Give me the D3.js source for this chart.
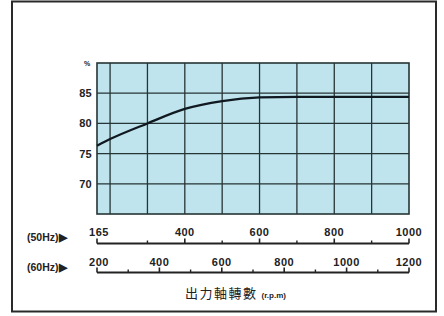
<!DOCTYPE html>
<html><head><meta charset="utf-8">
<script src="https://cdn.jsdelivr.net/npm/d3@7"></script>
<style>body{margin:0;background:#fff}svg{display:block}</style>
</head><body>
<script>
const rpm50 = [165, 200, 300, 400, 500, 600, 700, 800, 900, 1000];
const efficiency = [76.3, 77.4, 80.0, 82.4, 83.7, 84.3, 84.4, 84.4, 84.4, 84.4];
const yTicks = [70, 75, 80, 85];
const gridX = [200, 300, 400, 500, 600, 700, 800, 900];
const ticks50Major = [165, 400, 600, 800, 1000];
const ticks50Minor = [300, 500, 700, 900];
const ticks60Major = [200, 400, 600, 800, 1000, 1200];
const ticks60Minor = [300, 500, 700, 900, 1100];
const label50 = "(50Hz)▶";
const label60 = "(60Hz)▶";
const xTitle = "出力軸轉數";
const xUnit = "(r.p.m)";

const W = 444, H = 316;
const svg = d3.select("body").append("svg").attr("width", W).attr("height", H);
svg.append("rect").attr("x", 12).attr("y", 1.5).attr("width", 424).attr("height", 310)
  .attr("fill", "#fff").attr("stroke", "#2a2a2a").attr("stroke-width", 2);

const L = 97, R = 409, T = 63, B = 214;
const x50 = d3.scaleLinear().domain([165, 1000]).range([L, R]);
const x60 = d3.scaleLinear().domain([200, 1200]).range([L, R]);
const y = d3.scaleLinear().domain([65, 90]).range([B, T]);

svg.append("rect").attr("x", L).attr("y", T).attr("width", R - L).attr("height", B - T)
  .attr("fill", "#bfe4ee");

const gridColor = "#263535";
svg.append("g").selectAll("line").data(gridX).join("line")
  .attr("x1", d => x50(d)).attr("x2", d => x50(d)).attr("y1", T).attr("y2", B)
  .attr("stroke", gridColor).attr("stroke-width", 1.3);
svg.append("g").selectAll("line").data(yTicks).join("line")
  .attr("x1", L).attr("x2", R).attr("y1", d => y(d)).attr("y2", d => y(d))
  .attr("stroke", gridColor).attr("stroke-width", 1.3);
svg.append("rect").attr("x", L).attr("y", T).attr("width", R - L).attr("height", B - T)
  .attr("fill", "none").attr("stroke", gridColor).attr("stroke-width", 1.6);

// curve
svg.append("path").datum(rpm50.map((r, i) => [r, efficiency[i]]))
  .attr("d", d3.line().x(d => x50(d[0])).y(d => y(d[1])).curve(d3.curveMonotoneX))
  .attr("fill", "none").attr("stroke", "#101820").attr("stroke-width", 2.2);

const font = "'Liberation Sans', Arial, sans-serif";
svg.append("g").selectAll("text").data(yTicks).join("text")
  .attr("x", 92).attr("y", d => y(d) + 4).attr("text-anchor", "end")
  .attr("font-family", font).attr("font-weight", "bold").attr("font-size", 11)
  .attr("letter-spacing", 0.3).attr("fill", "#222").text(d => d);
svg.append("text").attr("x", 87).attr("y", 66).attr("text-anchor", "middle")
  .attr("font-family", font).attr("font-weight", "bold").attr("font-size", 7)
  .attr("fill", "#222").text("%");

function drawAxis(scale, major, minor, yLine, yLabel, label, labelY) {
  const g = svg.append("g");
  const [a, b] = scale.range();
  g.append("line").attr("x1", a).attr("x2", b).attr("y1", yLine).attr("y2", yLine)
    .attr("stroke", "#222").attr("stroke-width", 2);
  g.selectAll(".mj").data(major).join("line")
    .attr("x1", d => scale(d)).attr("x2", d => scale(d)).attr("y1", yLine).attr("y2", yLine - 5)
    .attr("stroke", "#222").attr("stroke-width", 1.6);
  g.selectAll(".mn").data(minor).join("line")
    .attr("x1", d => scale(d)).attr("x2", d => scale(d)).attr("y1", yLine).attr("y2", yLine - 3)
    .attr("stroke", "#222").attr("stroke-width", 1.4);
  g.selectAll("text").data(major).join("text")
    .attr("x", d => scale(d) + (d === major[0] ? 2 : 0)).attr("y", yLabel).attr("text-anchor", "middle")
    .attr("font-family", font).attr("font-weight", "bold").attr("font-size", 11)
    .attr("letter-spacing", 0.5).attr("fill", "#222").text(d => d);
  svg.append("text").attr("x", 27).attr("y", labelY)
    .attr("font-family", font).attr("font-weight", "bold").attr("font-size", 10.5)
    .attr("fill", "#222").text(label);
}
drawAxis(x50, ticks50Major, ticks50Minor, 243.5, 235.5, label50, 241);
drawAxis(x60, ticks60Major, ticks60Minor, 272.5, 265.5, label60, 270.5);

const tt = svg.append("text").attr("x", 185).attr("y", 298).attr("fill", "#222");
tt.append("tspan").attr("font-family", "'Noto Sans CJK TC', sans-serif").attr("font-size", 13)
  .attr("letter-spacing", 1.5).text(xTitle);
tt.append("tspan").attr("dx", 4).attr("font-family", font).attr("font-weight", "bold")
  .attr("font-size", 8).text(xUnit);
</script>
</body></html>
